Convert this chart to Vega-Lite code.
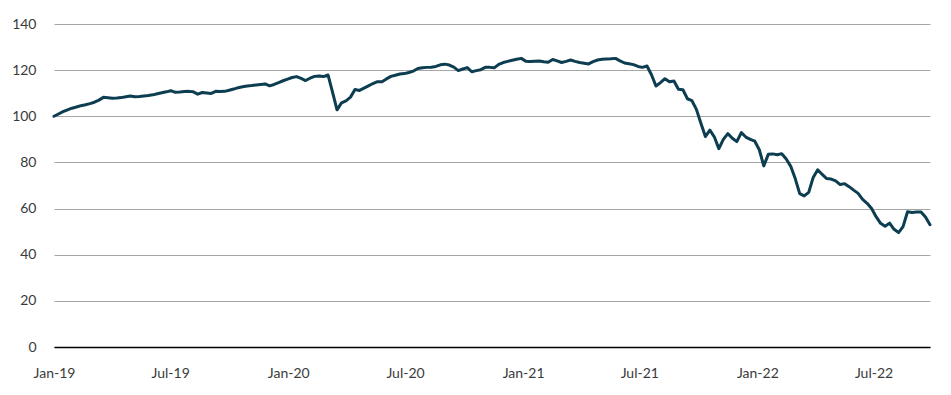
{
  "$schema": "https://vega.github.io/schema/vega-lite/v6.json",
  "autosize": "none",
  "padding": {"left": 54, "top": 24, "right": 21, "bottom": 48},
  "width": 876,
  "height": 323,
  "background": "white",
  "config": {"view": {"stroke": null}, "font": "Lato"},
  "data": {"values": [
    {"d":"2019-01-01","v":100.0},{"d":"2019-01-08","v":101.0},{"d":"2019-01-15","v":102.0},{"d":"2019-01-22","v":102.8},{"d":"2019-01-29","v":103.5},
    {"d":"2019-02-05","v":104.0},{"d":"2019-02-12","v":104.6},{"d":"2019-02-19","v":105.0},{"d":"2019-02-26","v":105.5},
    {"d":"2019-03-05","v":106.1},{"d":"2019-03-12","v":107.0},{"d":"2019-03-19","v":108.2},{"d":"2019-03-26","v":108.0},
    {"d":"2019-04-02","v":107.8},{"d":"2019-04-09","v":107.9},{"d":"2019-04-16","v":108.1},{"d":"2019-04-23","v":108.5},{"d":"2019-04-30","v":108.8},
    {"d":"2019-05-07","v":108.5},{"d":"2019-05-14","v":108.6},{"d":"2019-05-21","v":108.8},{"d":"2019-05-28","v":109.0},
    {"d":"2019-06-04","v":109.3},{"d":"2019-06-11","v":109.8},{"d":"2019-06-18","v":110.2},{"d":"2019-06-25","v":110.6},
    {"d":"2019-07-02","v":111.1},{"d":"2019-07-09","v":110.4},{"d":"2019-07-16","v":110.5},{"d":"2019-07-23","v":110.7},{"d":"2019-07-30","v":110.8},
    {"d":"2019-08-06","v":110.6},{"d":"2019-08-13","v":109.6},{"d":"2019-08-20","v":110.3},{"d":"2019-08-27","v":110.1},
    {"d":"2019-09-03","v":109.9},{"d":"2019-09-10","v":110.8},{"d":"2019-09-17","v":110.7},{"d":"2019-09-24","v":110.8},
    {"d":"2019-10-01","v":111.3},{"d":"2019-10-08","v":111.8},{"d":"2019-10-15","v":112.4},{"d":"2019-10-22","v":112.8},{"d":"2019-10-29","v":113.1},
    {"d":"2019-11-05","v":113.3},{"d":"2019-11-12","v":113.6},{"d":"2019-11-19","v":113.8},{"d":"2019-11-26","v":114.0},
    {"d":"2019-12-03","v":113.2},{"d":"2019-12-10","v":113.8},{"d":"2019-12-17","v":114.6},{"d":"2019-12-24","v":115.4},{"d":"2019-12-31","v":116.1},
    {"d":"2020-01-07","v":116.8},{"d":"2020-01-14","v":117.2},{"d":"2020-01-21","v":116.4},{"d":"2020-01-28","v":115.5},
    {"d":"2020-02-04","v":116.5},{"d":"2020-02-11","v":117.3},{"d":"2020-02-18","v":117.5},{"d":"2020-02-25","v":117.2},
    {"d":"2020-03-03","v":117.9},{"d":"2020-03-10","v":110.5},{"d":"2020-03-17","v":102.8},{"d":"2020-03-24","v":105.8},{"d":"2020-03-31","v":106.7},
    {"d":"2020-04-07","v":108.3},{"d":"2020-04-14","v":111.6},{"d":"2020-04-21","v":111.2},{"d":"2020-04-28","v":112.2},
    {"d":"2020-05-05","v":113.2},{"d":"2020-05-12","v":114.2},{"d":"2020-05-19","v":115.0},{"d":"2020-05-26","v":115.0},
    {"d":"2020-06-02","v":116.2},{"d":"2020-06-09","v":117.3},{"d":"2020-06-16","v":117.8},{"d":"2020-06-23","v":118.3},{"d":"2020-06-30","v":118.5},
    {"d":"2020-07-07","v":119.0},{"d":"2020-07-14","v":119.6},{"d":"2020-07-21","v":120.7},{"d":"2020-07-28","v":121.0},
    {"d":"2020-08-04","v":121.2},{"d":"2020-08-11","v":121.3},{"d":"2020-08-18","v":121.6},{"d":"2020-08-25","v":122.3},
    {"d":"2020-09-01","v":122.6},{"d":"2020-09-08","v":122.2},{"d":"2020-09-15","v":121.3},{"d":"2020-09-22","v":119.8},{"d":"2020-09-29","v":120.5},
    {"d":"2020-10-06","v":121.1},{"d":"2020-10-13","v":119.3},{"d":"2020-10-20","v":119.8},{"d":"2020-10-27","v":120.2},
    {"d":"2020-11-03","v":121.2},{"d":"2020-11-10","v":121.2},{"d":"2020-11-17","v":121.0},{"d":"2020-11-24","v":122.5},
    {"d":"2020-12-01","v":123.3},{"d":"2020-12-08","v":123.8},{"d":"2020-12-15","v":124.3},{"d":"2020-12-22","v":124.7},{"d":"2020-12-29","v":125.1},
    {"d":"2021-01-05","v":123.9},{"d":"2021-01-12","v":123.7},{"d":"2021-01-19","v":123.9},{"d":"2021-01-26","v":124.0},
    {"d":"2021-02-02","v":123.6},{"d":"2021-02-09","v":123.4},{"d":"2021-02-16","v":124.6},{"d":"2021-02-23","v":124.0},
    {"d":"2021-03-02","v":123.3},{"d":"2021-03-09","v":123.8},{"d":"2021-03-16","v":124.4},{"d":"2021-03-23","v":123.8},{"d":"2021-03-30","v":123.3},
    {"d":"2021-04-06","v":123.0},{"d":"2021-04-13","v":122.7},{"d":"2021-04-20","v":123.7},{"d":"2021-04-27","v":124.4},
    {"d":"2021-05-04","v":124.7},{"d":"2021-05-11","v":124.8},{"d":"2021-05-18","v":124.9},{"d":"2021-05-25","v":125.1},
    {"d":"2021-06-01","v":124.0},{"d":"2021-06-08","v":123.1},{"d":"2021-06-15","v":122.8},{"d":"2021-06-22","v":122.4},{"d":"2021-06-29","v":121.6},
    {"d":"2021-07-06","v":121.2},{"d":"2021-07-13","v":121.8},{"d":"2021-07-20","v":118.0},{"d":"2021-07-27","v":113.1},
    {"d":"2021-08-03","v":114.6},{"d":"2021-08-10","v":116.3},{"d":"2021-08-17","v":115.0},{"d":"2021-08-24","v":115.3},{"d":"2021-08-31","v":111.7},
    {"d":"2021-09-07","v":111.5},{"d":"2021-09-14","v":107.6},{"d":"2021-09-21","v":106.8},{"d":"2021-09-28","v":103.0},
    {"d":"2021-10-05","v":97.0},{"d":"2021-10-12","v":91.2},{"d":"2021-10-19","v":94.0},{"d":"2021-10-26","v":91.0},
    {"d":"2021-11-02","v":86.0},{"d":"2021-11-09","v":90.0},{"d":"2021-11-16","v":92.5},{"d":"2021-11-23","v":90.5},{"d":"2021-11-30","v":89.0},
    {"d":"2021-12-07","v":92.9},{"d":"2021-12-14","v":91.0},{"d":"2021-12-21","v":90.0},{"d":"2021-12-28","v":89.2},
    {"d":"2022-01-04","v":85.5},{"d":"2022-01-11","v":78.5},{"d":"2022-01-18","v":83.5},{"d":"2022-01-25","v":83.7},
    {"d":"2022-02-01","v":83.3},{"d":"2022-02-08","v":83.8},{"d":"2022-02-15","v":81.5},{"d":"2022-02-22","v":78.3},
    {"d":"2022-03-01","v":73.0},{"d":"2022-03-08","v":66.5},{"d":"2022-03-15","v":65.5},{"d":"2022-03-22","v":67.0},{"d":"2022-03-29","v":73.5},
    {"d":"2022-04-05","v":76.8},{"d":"2022-04-12","v":74.8},{"d":"2022-04-19","v":73.0},{"d":"2022-04-26","v":72.8},
    {"d":"2022-05-03","v":72.0},{"d":"2022-05-10","v":70.4},{"d":"2022-05-17","v":70.8},{"d":"2022-05-24","v":69.5},{"d":"2022-05-31","v":68.0},
    {"d":"2022-06-07","v":66.6},{"d":"2022-06-14","v":64.0},{"d":"2022-06-21","v":62.3},{"d":"2022-06-28","v":60.0},
    {"d":"2022-07-05","v":56.5},{"d":"2022-07-12","v":53.6},{"d":"2022-07-19","v":52.3},{"d":"2022-07-26","v":53.7},
    {"d":"2022-08-02","v":51.0},{"d":"2022-08-09","v":49.6},{"d":"2022-08-16","v":52.2},{"d":"2022-08-23","v":58.6},{"d":"2022-08-30","v":58.3},
    {"d":"2022-09-06","v":58.5},{"d":"2022-09-13","v":58.5},{"d":"2022-09-20","v":56.3},{"d":"2022-09-27","v":53.0}
  ]},
  "mark": {"type": "line", "color": "#0d3d50", "strokeWidth": 3, "strokeJoin": "round", "strokeCap": "round"},
  "encoding": {
    "x": {
      "field": "d", "type": "temporal", "title": null,
      "scale": {"domain": ["2019-01-01", "2022-09-27"]},
      "axis": {
        "values": [
          {"year": 2019, "month": 1, "date": 1}, {"year": 2019, "month": 7, "date": 1},
          {"year": 2020, "month": 1, "date": 1}, {"year": 2020, "month": 7, "date": 1},
          {"year": 2021, "month": 1, "date": 1}, {"year": 2021, "month": 7, "date": 1},
          {"year": 2022, "month": 1, "date": 1}, {"year": 2022, "month": 7, "date": 1}
        ],
        "format": "%b-%y", "grid": false, "ticks": false,
        "domain": true, "domainColor": "#000000", "domainWidth": 1.5,
        "labelFontSize": 14, "labelColor": "#3a3a3a", "labelPadding": 19, "labelFlush": false
      }
    },
    "y": {
      "field": "v", "type": "quantitative", "title": null,
      "scale": {"domain": [0, 140], "nice": false},
      "axis": {
        "values": [0, 20, 40, 60, 80, 100, 120, 140],
        "grid": true, "gridColor": "#a6a6a6", "gridWidth": 1,
        "ticks": false, "domain": false,
        "labelFontSize": 14, "labelColor": "#3a3a3a", "labelPadding": 18
      }
    }
  }
}
